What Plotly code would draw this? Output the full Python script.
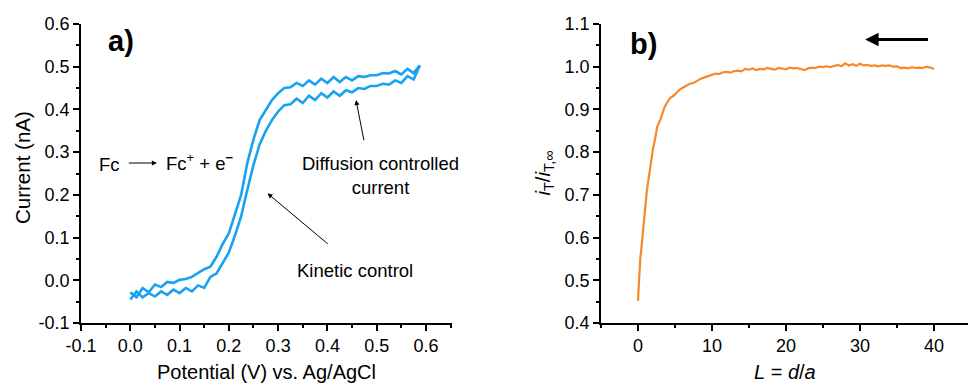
import plotly.graph_objects as go

# ---- Panel a: cyclic voltammogram ----
potential = [0.0000, 0.0125, 0.0250, 0.0375, 0.0500, 0.0625, 0.0750, 0.0875, 0.1000, 0.1125,
             0.1250, 0.1375, 0.1500, 0.1625, 0.1750, 0.1875, 0.2000, 0.2125, 0.2250, 0.2375,
             0.2500, 0.2625, 0.2750, 0.2875, 0.3000, 0.3125, 0.3250, 0.3375, 0.3500, 0.3625,
             0.3750, 0.3875, 0.4000, 0.4125, 0.4250, 0.4375, 0.4500, 0.4625, 0.4750, 0.4875,
             0.5000, 0.5125, 0.5250, 0.5375, 0.5500, 0.5625, 0.5750, 0.5875]
current_upper = [-0.028, -0.040, -0.018, -0.028, -0.010, -0.016, -0.004, -0.006, 0.001, 0.003,
                 0.008, 0.016, 0.026, 0.032, 0.055, 0.085, 0.110, 0.155, 0.200, 0.275,
                 0.330, 0.375, 0.400, 0.422, 0.438, 0.450, 0.452, 0.462, 0.455, 0.468,
                 0.458, 0.472, 0.462, 0.476, 0.464, 0.476, 0.468, 0.478, 0.476, 0.480,
                 0.480, 0.485, 0.484, 0.490, 0.482, 0.495, 0.485, 0.503]
current_lower = [-0.045, -0.026, -0.040, -0.030, -0.038, -0.026, -0.034, -0.022, -0.030, -0.018,
                 -0.026, -0.012, -0.018, 0.008, 0.016, 0.040, 0.065, 0.105, 0.150, 0.212,
                 0.270, 0.318, 0.350, 0.375, 0.395, 0.410, 0.412, 0.425, 0.415, 0.432,
                 0.422, 0.438, 0.428, 0.442, 0.432, 0.445, 0.440, 0.450, 0.448, 0.455,
                 0.455, 0.460, 0.458, 0.468, 0.462, 0.478, 0.470, 0.503]
a_xticks = [-0.1, 0.0, 0.1, 0.2, 0.3, 0.4, 0.5, 0.6]
a_xticklabels = ["-0.1", "0.0", "0.1", "0.2", "0.3", "0.4", "0.5", "0.6"]
a_yticks = [-0.1, 0.0, 0.1, 0.2, 0.3, 0.4, 0.5, 0.6]
a_yticklabels = ["-0.1", "0.0", "0.1", "0.2", "0.3", "0.4", "0.5", "0.6"]

# ---- Panel b: approach curve ----
L_vals = [0, 0.1, 0.2, 0.3, 0.4, 0.6, 0.8, 1.0, 1.2, 1.5, 1.8, 2.0, 2.3, 2.6, 3.0, 3.3, 3.6,
          4.0, 4.4, 4.8, 5.2, 5.6, 6.0, 6.5, 7.0, 7.5, 8.0, 8.5, 9.0, 9.5,
          10, 10.5, 11, 11.5, 12, 12.5, 13, 13.5, 14, 14.5, 15, 15.5, 16, 16.5, 17, 17.5,
          18, 18.5, 19, 19.5, 20, 20.5, 21, 21.5, 22, 22.5, 23, 23.5, 24, 24.5, 25, 25.5,
          26, 26.5, 27, 27.5, 28, 28.5, 29, 29.5, 30, 30.5, 31, 31.5, 32, 32.5, 33, 33.5,
          34, 34.5, 35, 35.5, 36, 36.5, 37, 37.5, 38, 38.5, 39, 39.5, 40]
iT_norm = [0.452, 0.500, 0.530, 0.550, 0.565, 0.600, 0.640, 0.680, 0.710, 0.745, 0.790, 0.805,
           0.830, 0.860, 0.875, 0.893, 0.906, 0.918, 0.928, 0.932, 0.940, 0.946, 0.950, 0.955,
           0.960, 0.962, 0.968, 0.972, 0.975, 0.978,
           0.982, 0.984, 0.983, 0.987, 0.988, 0.986, 0.990, 0.991, 0.989, 0.995, 0.993, 0.996,
           0.992, 0.995, 0.994, 0.997, 0.995, 0.993, 0.997, 0.996, 0.994, 0.998, 0.996, 0.997,
           0.995, 0.992, 0.996, 0.998, 0.997, 1.000, 0.999, 1.001, 0.999, 1.002, 1.004, 1.001,
           1.008, 1.003, 1.006, 1.002, 1.007, 1.003, 1.004, 1.002, 1.003, 1.001, 1.003, 1.002,
           1.003, 1.000, 1.001, 0.997, 0.998, 0.996, 0.999, 0.997, 0.998, 0.997, 1.000, 0.998,
           0.995]
b_xticks = [0, 10, 20, 30, 40]
b_xticklabels = ["0", "10", "20", "30", "40"]
b_yticks = [0.4, 0.5, 0.6, 0.7, 0.8, 0.9, 1.0, 1.1]
b_yticklabels = ["0.4", "0.5", "0.6", "0.7", "0.8", "0.9", "1.0", "1.1"]

BLUE = "#18a2f0"
ORANGE = "#f5892c"
FONT = "Liberation Sans, Arial, sans-serif"
W, H = 968, 386

def px(x):
    return x / W

def py(y):
    return 1 - y / H

fig = go.Figure()
fig.add_trace(go.Scatter(x=potential, y=current_upper, mode="lines",
                         line=dict(color=BLUE, width=2.6), xaxis="x", yaxis="y",
                         showlegend=False))
fig.add_trace(go.Scatter(x=potential, y=current_lower, mode="lines",
                         line=dict(color=BLUE, width=2.6), xaxis="x", yaxis="y",
                         showlegend=False))
fig.add_trace(go.Scatter(x=L_vals, y=iT_norm, mode="lines",
                         line=dict(color=ORANGE, width=2.2), xaxis="x2", yaxis="y2",
                         showlegend=False))

axis_common = dict(showline=True, linecolor="black", linewidth=1.5, ticks="outside",
                   ticklen=6, tickwidth=1.5, tickcolor="black", showgrid=False,
                   zeroline=False, mirror=False, automargin=False,
                   tickfont=dict(family=FONT, size=18, color="black"))
minor_common = dict(tickmode="linear", ticks="outside", ticklen=3, tickwidth=1.5,
                    tickcolor="black")

fig.update_layout(
    width=W, height=H,
    margin=dict(l=0, r=0, t=0, b=0),
    paper_bgcolor="white", plot_bgcolor="white",
    font=dict(family=FONT, size=18, color="black"),
    xaxis=dict(domain=[px(81), px(452)], range=[-0.1, 0.6528], anchor="y",
               tickmode="array", tickvals=a_xticks, ticktext=a_xticklabels,
               minor=dict(tick0=-0.1, dtick=0.05, **minor_common), **axis_common),
    yaxis=dict(domain=[py(323), py(24)], range=[-0.1, 0.6], anchor="x",
               tickmode="array", tickvals=a_yticks, ticktext=a_yticklabels,
               minor=dict(tick0=-0.1, dtick=0.05, **minor_common), **axis_common),
    xaxis2=dict(domain=[px(601), 1.0], range=[-5, 44.6], anchor="y2",
                tickmode="array", tickvals=b_xticks, ticktext=b_xticklabels,
                minor=dict(tick0=-5, dtick=5, **minor_common), **axis_common),
    yaxis2=dict(domain=[py(323), py(24)], range=[0.4, 1.1], anchor="x2",
                tickmode="array", tickvals=b_yticks, ticktext=b_yticklabels,
                minor=dict(tick0=0.4, dtick=0.05, **minor_common), **axis_common),
)

def label(text, x, y, size, angle=0, xref="paper", yref="paper"):
    return dict(text=text, x=x, y=y, xref=xref, yref=yref, textangle=angle,
                showarrow=False, xanchor="center", yanchor="middle",
                font=dict(family=FONT, size=size, color="black"))

def arrow(x, y, ax, ay, xref, yref, width=1, size=1):
    return dict(text="", x=x, y=y, ax=ax, ay=ay, xref=xref, yref=yref, axref=xref,
                ayref=yref, showarrow=True, arrowhead=2, arrowsize=size,
                arrowwidth=width, arrowcolor="black")

ann = [
    label("Current (nA)", px(22), py(168), 20.5, angle=-90),
    label("Potential (V) vs. Ag/AgCl", px(266), py(372), 20),
    label("<i>i</i><sub>T</sub>/<i>i</i><sub>T,∞</sub>", px(543), py(173.5), 20.5, angle=-90),
    label("<i>L</i> = <i>d</i>/<i>a</i>", px(785), py(372), 20),
    label("<b>a)</b>", px(121), py(41), 29),
    label("<b>b)</b>", px(643), py(44), 29),
    label("Fc", -0.043, 0.272, 18.5, xref="x", yref="y"),
    label("Fc<sup>+</sup> + e<sup><b>−</b></sup>", 0.142, 0.278, 18.5, xref="x", yref="y"),
    arrow(0.054, 0.2745, -0.006, 0.2745, "x", "y"),
    label("Diffusion controlled<br>current", 0.508, 0.245, 18.5, xref="x", yref="y"),
    arrow(0.458, 0.422, 0.4746, 0.3244, "x", "y"),
    label("Kinetic control", 0.456, 0.024, 18.5, xref="x", yref="y"),
    arrow(0.2785, 0.2035, 0.4037, 0.0824, "x", "y"),
    arrow(30.7, 1.064, 39.4, 1.064, "x2", "y2", width=3, size=0.9),
]

fig.update_layout(annotations=ann)
fig.write_html("out.html")
